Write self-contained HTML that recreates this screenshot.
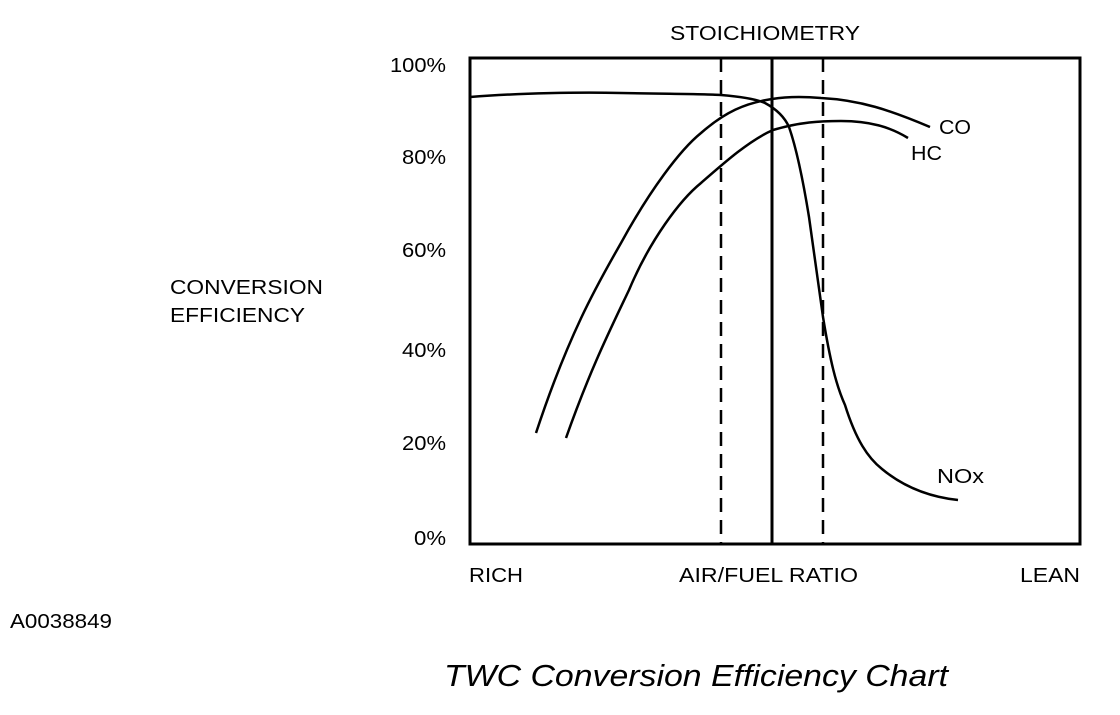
<!DOCTYPE html>
<html><head><style>
body{margin:0;background:#fff;}
svg text{font-family:"Liberation Sans",Arial,sans-serif;fill:#000;}
</style></head><body>
<svg width="1120" height="710" viewBox="0 0 1120 710" xmlns="http://www.w3.org/2000/svg">
<rect x="470" y="58" width="610" height="486" fill="none" stroke="#000" stroke-width="3"/>
<line x1="721" y1="58" x2="721" y2="544" stroke="#000" stroke-width="2.5" stroke-dasharray="14,8"/>
<line x1="823" y1="58" x2="823" y2="544" stroke="#000" stroke-width="2.5" stroke-dasharray="14,8"/>
<line x1="772" y1="58" x2="772" y2="544" stroke="#000" stroke-width="3"/>
<g fill="none" stroke="#000" stroke-width="2.5">
<path d="M536,433 C570,330 600,280 621,243 C650,190 680,150 701,133 C725,112 745,103 772,99 C790,96 810,97 821,98 C860,100 890,110 930,127"/>
<path d="M566,438 C590,370 610,330 629,290 C650,240 680,200 701,183 C725,162 750,140 773,130 C800,122 820,121 841,121 C870,121 890,127 908,138"/>
<path d="M470,97 C520,93 580,92 621,93 C680,94 710,94 721,95 C745,97 758,100 765,103 C778,110 785,118 789,127 C797,150 803,180 809,217 C815,260 819,290 823,317 C830,360 836,385 845,405 C856,440 868,458 882,469 C905,488 930,497 958,500"/>
</g>
<g font-size="20">
<text x="670" y="40" textLength="190" lengthAdjust="spacingAndGlyphs">STOICHIOMETRY</text>
<text x="390" y="72" textLength="56" lengthAdjust="spacingAndGlyphs">100%</text>
<text x="402" y="164" textLength="44" lengthAdjust="spacingAndGlyphs">80%</text>
<text x="402" y="257" textLength="44" lengthAdjust="spacingAndGlyphs">60%</text>
<text x="402" y="357" textLength="44" lengthAdjust="spacingAndGlyphs">40%</text>
<text x="402" y="450" textLength="44" lengthAdjust="spacingAndGlyphs">20%</text>
<text x="414" y="545" textLength="32" lengthAdjust="spacingAndGlyphs">0%</text>
<text x="170" y="294" textLength="153" lengthAdjust="spacingAndGlyphs">CONVERSION</text>
<text x="170" y="322" textLength="135" lengthAdjust="spacingAndGlyphs">EFFICIENCY</text>
<text x="469" y="582" textLength="54" lengthAdjust="spacingAndGlyphs">RICH</text>
<text x="679" y="582" textLength="179" lengthAdjust="spacingAndGlyphs">AIR/FUEL RATIO</text>
<text x="1020" y="582" textLength="60" lengthAdjust="spacingAndGlyphs">LEAN</text>
<text x="939" y="134" textLength="32" lengthAdjust="spacingAndGlyphs">CO</text>
<text x="911" y="160" textLength="31" lengthAdjust="spacingAndGlyphs">HC</text>
<text x="937" y="483" textLength="47" lengthAdjust="spacingAndGlyphs">NOx</text>
<text x="10" y="628" textLength="102" lengthAdjust="spacingAndGlyphs">A0038849</text>
</g>
<text x="444" y="686" font-size="31" font-style="italic" textLength="504" lengthAdjust="spacingAndGlyphs">TWC Conversion Efficiency Chart</text>
</svg>
</body></html>
